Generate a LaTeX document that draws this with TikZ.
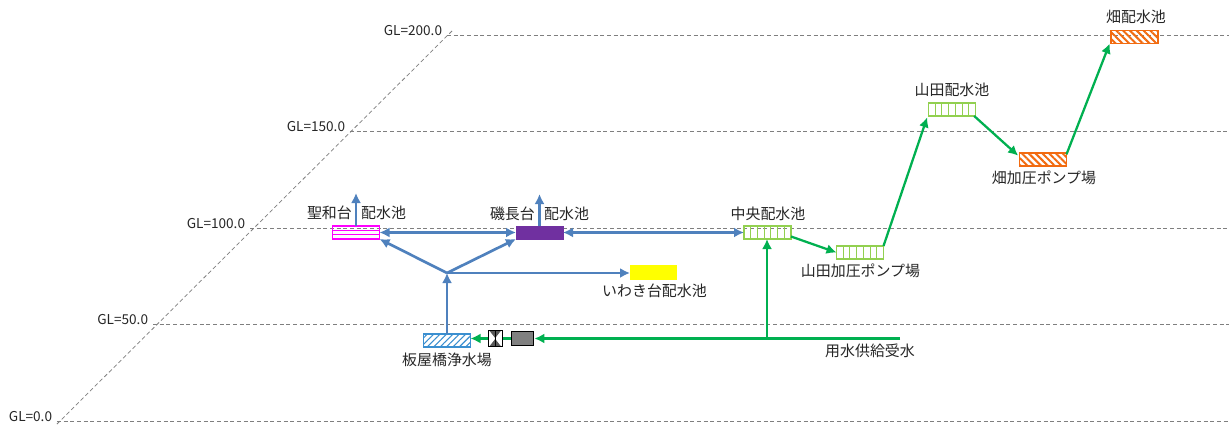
\documentclass[tikz,border=0pt]{standalone}
\usepackage{fontspec}
\setmainfont{Noto Sans CJK JP}
\usetikzlibrary{positioning,calc,arrows.meta,patterns.meta}
\definecolor{pipeblue}{HTML}{4F81BD}
\definecolor{pipegreen}{HTML}{00B050}
\definecolor{lightgreen}{HTML}{92D050}
\definecolor{orangebox}{HTML}{F26B10}
\definecolor{purplebox}{HTML}{7030A0}
\definecolor{pinkbox}{HTML}{FF00FF}
\definecolor{yellowbox}{HTML}{FFFF00}
\definecolor{hatchblue}{HTML}{3A8FD0}
\definecolor{gridgray}{HTML}{7F7F7F}
\definecolor{textgray}{HTML}{262626}
\tikzset{
	tank/.style = {minimum width=35.25pt, minimum height=9.75pt, inner sep=0pt, outer sep=0pt},
	tankgreen/.style = {tank, draw=lightgreen, line width=1.2pt},
	tankorange/.style = {tank, draw=orangebox, line width=.8pt, pattern={Lines[angle=-45,distance=3.6pt,line width=1.5pt]}, pattern color=orangebox},
	sitename/.style = {text=textgray, font=\fontsize{11.2}{13}\selectfont, inner sep=0pt},
	levelname/.style = {text=textgray, font=\fontsize{10.2}{12}\selectfont, inner sep=0pt, anchor=east},
	gridline/.style = {gridgray, densely dashed, line width=.55pt},
	bluelink/.style = {pipeblue, line width=2pt, >={Latex[length=7.5pt,width=7.5pt]}},
	greenlink/.style = {pipegreen, line width=1.7pt, >={Latex[length=7.5pt,width=7.5pt]}}
}
\begin{document}
\begin{tikzpicture}[x=.75pt, y=-.75pt]
	\useasboundingbox[fill=white] (0,0) rectangle (1229,428);
	% Levels
	\coordinate (g0) at (57,421);
	\coordinate (g50) at (153,324);
	\coordinate (g100) at (250,228);
	\coordinate (g150) at (350,131);
	\coordinate (g200) at (447,35);
	\coordinate (diagA) at (57,424);
	\coordinate (diagB) at (453,30);
	\draw[gridline] (diagA) -- (diagB);
	\foreach \lev/\txt in {g0/0.0, g50/50.0, g100/100.0, g150/150.0, g200/200.0} {
		\coordinate (\lev e) at (1229,0 |- \lev);
		\draw[gridline] (\lev) -- (\lev e);
		\node[levelname] (\lev t) at ([xshift=-3.5pt,yshift=3pt]\lev) {GL=\txt};
	}
	% Tanks
	\node[tank, draw=pinkbox, line width=.8pt] (seiwa) at (356,232.5) {};
	\foreach \i in {1,2}
		\draw[pinkbox, line width=.8pt] ($(seiwa.north west)!\i/3!(seiwa.south west)$) -- ($(seiwa.north east)!\i/3!(seiwa.south east)$);
	\node[tank, fill=purplebox, draw=purplebox] (iso) at (539.5,232.5) {};
	\node[tankgreen] (chuo) at (767.5,232.5) {};
	\node[tankgreen] (yamadaP) at (860,252.5) {};
	\node[tankgreen] (yamada) at (952,109.5) {};
	\foreach \tk in {chuo,yamadaP,yamada}
		\foreach \i in {1,...,6}
			\draw[lightgreen, line width=.8pt] ($(\tk.north west)!\i/7!(\tk.north east)$) -- ($(\tk.south west)!\i/7!(\tk.south east)$);
	\node[tankorange] (hataP) at (1043,159.5) {};
	\node[tankorange] (hata) at (1134.5,37) {};
	\node[tank, fill=yellowbox, minimum height=11.25pt] (iwaki) at (653.5,272.5) {};
	\node[tank, draw=hatchblue, line width=.8pt, pattern={Lines[angle=45,distance=3.4pt,line width=.8pt]}, pattern color=hatchblue] (itaya) at (447,340.5) {};
	% Pump and valve
	\node[draw=black, fill=gray, line width=.8pt, minimum width=17pt, minimum height=10pt, inner sep=0pt] (motor) at (522.5,338.5) {};
	\node[draw=black, fill=white, line width=.7pt, minimum width=11pt, minimum height=12pt, inner sep=0pt] (pump) at (495.5,338.5) {};
	\fill[black!65] (pump.north west) ++(2,1) -- ++(11,0) -- ++(-5.5,7) -- cycle;
	\fill[black!65] (pump.south west) ++(2,-1) -- ++(11,0) -- ++(-5.5,-7) -- cycle;
	\draw[black, line width=.5pt] (pump.north) -- (pump.south);
	% Free ends and junctions
	\coordinate (blueJ) at (447,273);
	\coordinate (seiwaUp) at (355,193);
	\coordinate (isoUp) at (539,194);
	\coordinate (supply) at (900,338.5);
	\coordinate (greenJ) at (767,338.5);
	% Blue pipes
	\draw[bluelink, <->] (seiwa.east) -- (iso.west);
	\draw[bluelink, <->] (iso.east) -- (chuo.west);
	\draw[bluelink, ->] (seiwa.north) -- (seiwa.north |- seiwaUp);
	\draw[bluelink, ->] (iso.north) -- (iso.north |- isoUp);
	\draw[bluelink, ->] (itaya.north) -- (blueJ);
	\draw[bluelink, ->] (blueJ) -- (seiwa.south east);
	\draw[bluelink, ->] (blueJ) -- (iso.south west);
	\draw[bluelink, ->] (blueJ) -- (iwaki.west |- blueJ);
	% Green pipes
	\draw[greenlink, ->] (supply) -- (motor.east);
	\draw[greenlink] (motor.west) -- (pump.east);
	\draw[greenlink, ->] (pump.west) -- (itaya.east |- pump.west);
	\draw[greenlink, ->] (greenJ) -- (chuo.south -| greenJ);
	\draw[greenlink, ->] ([yshift=-3pt]chuo.east) -- ([yshift=0pt]yamadaP.west);
	\draw[greenlink, ->] (yamadaP.north east) -- ([xshift=-1pt,yshift=-1pt]yamada.south west);
	\draw[greenlink, ->] ([xshift=-1pt]yamada.south east) -- ([xshift=-1pt,yshift=-2pt]hataP.north west);
	\draw[greenlink, ->] ([yshift=-1pt]hataP.north east) -- ([xshift=-1pt]hata.south west);
	% Labels
	\node[sitename] (seiwaL) at (356.5,213) {聖和台\hspace{7pt}配水池};
	\node[sitename] (isoL) at (539.5,213.5) {磯長台\hspace{7pt}配水池};
	\node[sitename] (chuoL) at (768,213.5) {中央配水池};
	\node[sitename] (yamadaPL) at (860.5,271) {山田加圧ポンプ場};
	\node[sitename] (yamadaL) at (952,90) {山田配水池};
	\node[sitename] (hataPL) at (1044,178) {畑加圧ポンプ場};
	\node[sitename] (hataL) at (1136,17) {畑配水池};
	\node[sitename] (iwakiL) at (654.5,291) {いわき台配水池};
	\node[sitename] (itayaL) at (447,360) {板屋橋浄水場};
	\node[sitename] (supplyL) at (870,351) {用水供給受水};
\end{tikzpicture}
\end{document}
